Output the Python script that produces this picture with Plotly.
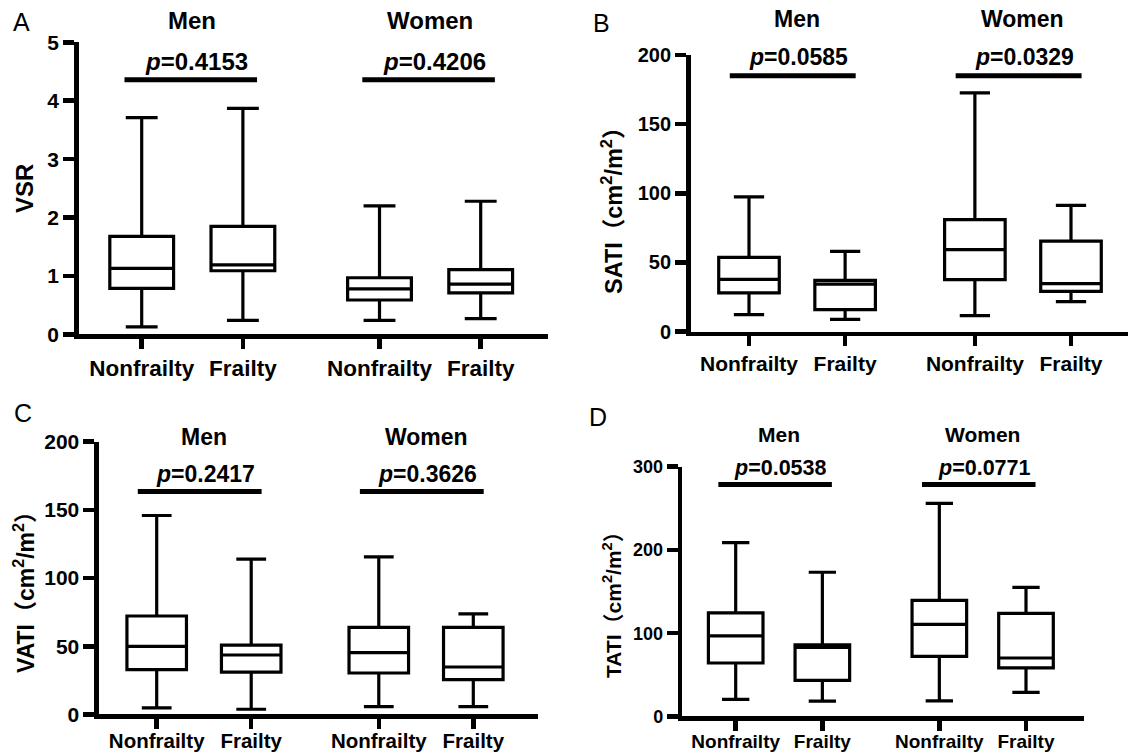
import plotly.graph_objects as go

W, H = 1128, 756

# ---------------- data ----------------
categories = ["Nonfrailty", "Frailty", "Nonfrailty", "Frailty"]
groups = ["Men", "Women"]
x_pos = [1, 2, 3.35, 4.35]

vsr_min = [0.13, 0.24, 0.24, 0.27]
vsr_q1 = [0.79, 1.09, 0.59, 0.71]
vsr_med = [1.13, 1.19, 0.78, 0.86]
vsr_q3 = [1.68, 1.85, 0.97, 1.11]
vsr_max = [3.71, 3.87, 2.20, 2.28]
vsr_p = ["0.4153", "0.4206"]

sati_min = [12.2, 8.8, 11.5, 21.7]
sati_q1 = [28.0, 15.8, 37.5, 29.0]
sati_med = [37.7, 34.3, 59.2, 34.6]
sati_q3 = [53.7, 37.0, 80.9, 65.4]
sati_max = [97.4, 58.0, 172.6, 91.2]
sati_p = ["0.0585", "0.0329"]

vati_min = [4.8, 3.8, 5.8, 5.8]
vati_q1 = [32.8, 31.0, 30.4, 25.5]
vati_med = [49.9, 43.6, 45.3, 34.8]
vati_q3 = [72.2, 50.9, 63.8, 63.8]
vati_max = [145.9, 113.9, 115.6, 73.7]
vati_p = ["0.2417", "0.3626"]

tati_min = [20.6, 18.4, 18.6, 28.9]
tati_q1 = [64.2, 43.4, 72.1, 58.3]
tati_med = [96.7, 83.0, 110.6, 70.2]
tati_q3 = [124.5, 86.0, 139.5, 123.7]
tati_max = [208.9, 173.2, 256.0, 155.0]
tati_p = ["0.0538", "0.0771"]

sig_bar_y = [4.36, 185, 163.4, 278.6]
p_text_y = [4.67, 198.4, 176.3, 298.1]

y_titles = ["VSR",
            "SATI（cm<sup>2</sup>/m<sup>2</sup>）",
            "VATI（cm<sup>2</sup>/m<sup>2</sup>）",
            "TATI（cm<sup>2</sup>/m<sup>2</sup>）"]
panel_letters = ["A", "B", "C", "D"]

# ---------------- layout geometry (pixels) ----------------
FAM = "Liberation Sans, Arial, Noto Sans CJK SC, sans-serif"
panels = [
    dict(stats=(vsr_min, vsr_q1, vsr_med, vsr_q3, vsr_max), p=vsr_p, ymax=5, dtick=1,
         left=76.5, right=548, top=42.3, bottom=336.7, t1=141.7, t4=480.7,
         tfs=21, xfs=22.5, xstand=0, title_fs=24, p_fs=24, ylab_fs=24,
         bar_off=(-0.17, 0.14), letter=(21.4, 21.7), ylab=(24, 189), title_y=20.7),
    dict(stats=(sati_min, sati_q1, sati_med, sati_q3, sati_max), p=sati_p, ymax=200, dtick=50,
         left=688.3, right=1128, top=55, bottom=333.8, t1=749, t4=1071,
         tfs=20, xfs=21, xstand=0, title_fs=23, p_fs=23, ylab_fs=23.5,
         bar_off=(-0.2, 0.11), letter=(601.7, 23.3), ylab=(612, 205), title_y=19.3),
    dict(stats=(vati_min, vati_q1, vati_med, vati_q3, vati_max), p=vati_p, ymax=200, dtick=50,
         left=96.7, right=537.5, top=441.7, bottom=716.7, t1=156.7, t4=473.3,
         tfs=21, xfs=20.5, xstand=-6, title_fs=23, p_fs=23, ylab_fs=23,
         bar_off=(-0.2, 0.11), letter=(23.2, 413.3), ylab=(24, 587), title_y=437.3),
    dict(stats=(tati_min, tati_q1, tati_med, tati_q3, tati_max), p=tati_p, ymax=300, dtick=100,
         left=680, right=1084, top=466.7, bottom=718.7, t1=735.7, t4=1026,
         tfs=18, xfs=19, xstand=-6, title_fs=21, p_fs=21.5, ylab_fs=21,
         bar_off=(-0.2, 0.11), letter=(598, 417.3), ylab=(612, 600), title_y=434),
]

LW = 4.5
fig = go.Figure()
layout = dict(width=W, height=H, margin=dict(l=0, r=0, t=0, b=0, pad=0), autosize=False,
              paper_bgcolor="white", plot_bgcolor="white", showlegend=False,
              font=dict(family=FAM, color="black"))
annotations = []
shapes = []

for i, pn in enumerate(panels):
    sfx = "" if i == 0 else str(i + 1)
    xa, ya = "x" + sfx, "y" + sfx
    mn, q1, md, q3, mx = pn["stats"]
    fig.add_trace(go.Box(
        x=x_pos, q1=q1, median=md, q3=q3, lowerfence=mn, upperfence=mx,
        width=0.63, whiskerwidth=0.5, boxpoints=False,
        line=dict(color="black", width=3.2), fillcolor="white",
        xaxis=xa, yaxis=ya, hoverinfo="skip"))

    # geometry -> domain and range
    dl = pn["left"] + LW / 2
    db = pn["bottom"] - LW / 2
    unit = (pn["t4"] - pn["t1"]) / (x_pos[3] - x_pos[0])
    xr0 = x_pos[0] - (pn["t1"] - dl) / unit
    xr1 = x_pos[3] + (pn["right"] - pn["t4"]) / unit
    layout["xaxis" + sfx] = dict(
        domain=[dl / W, min(pn["right"] / W, 1.0)], range=[xr0, xr1], anchor=ya,
        showline=True, linewidth=LW, linecolor="black", mirror=False,
        showgrid=False, zeroline=False, automargin=False,
        tickmode="array", tickvals=x_pos, ticktext=categories,
        ticks="outside", ticklen=10, tickwidth=LW, tickcolor="black",
        ticklabelstandoff=pn["xstand"],
        tickfont=dict(family=FAM, size=pn["xfs"], color="black", weight="bold"))
    layout["yaxis" + sfx] = dict(
        domain=[1 - db / H, 1 - pn["top"] / H], range=[0, pn["ymax"]], anchor=xa,
        showline=True, linewidth=LW, linecolor="black", automargin=False,
        showgrid=False, zeroline=False, tick0=0, dtick=pn["dtick"],
        ticks="outside", ticklen=11, tickwidth=LW, tickcolor="black",
        tickfont=dict(family=FAM, size=pn["tfs"], color="black", weight="bold"))

    # significance bars and p-values
    for g in range(2):
        a, b = x_pos[2 * g], x_pos[2 * g + 1]
        x0, x1 = a + pn["bar_off"][0], b + pn["bar_off"][1]
        shapes.append(dict(type="line", xref=xa, yref=ya, x0=x0, x1=x1,
                           y0=sig_bar_y[i], y1=sig_bar_y[i],
                           line=dict(color="black", width=5)))
        annotations.append(dict(xref=xa, yref=ya, x=(x0 + x1) / 2 + 0.06, y=p_text_y[i],
                                text="<b><i>p</i>=" + pn["p"][g] + "</b>", showarrow=False,
                                font=dict(family=FAM, size=pn["p_fs"], color="black"),
                                xanchor="center", yanchor="middle"))
        annotations.append(dict(xref=xa, yref="paper", x=(a + b) / 2, y=1 - pn["title_y"] / H,
                                text="<b>" + groups[g] + "</b>", showarrow=False,
                                font=dict(family=FAM, size=pn["title_fs"], color="black"),
                                xanchor="center", yanchor="middle"))

    # y-axis title
    annotations.append(dict(xref="paper", yref="paper", x=pn["ylab"][0] / W, y=1 - pn["ylab"][1] / H,
                            text="<b>" + y_titles[i] + "</b>", textangle=-90, showarrow=False,
                            font=dict(family=FAM, size=pn["ylab_fs"], color="black"),
                            xanchor="center", yanchor="middle"))
    # panel letter
    annotations.append(dict(xref="paper", yref="paper", x=pn["letter"][0] / W, y=1 - pn["letter"][1] / H,
                            text=panel_letters[i], showarrow=False,
                            font=dict(family=FAM, size=25, color="black"),
                            xanchor="center", yanchor="middle"))

layout["annotations"] = annotations
layout["shapes"] = shapes
fig.update_layout(**layout)
fig.write_html("out.html",
               config={"displayModeBar": False, "staticPlot": True},
               post_script="document.body.style.margin='0';document.body.style.overflow='hidden';")
